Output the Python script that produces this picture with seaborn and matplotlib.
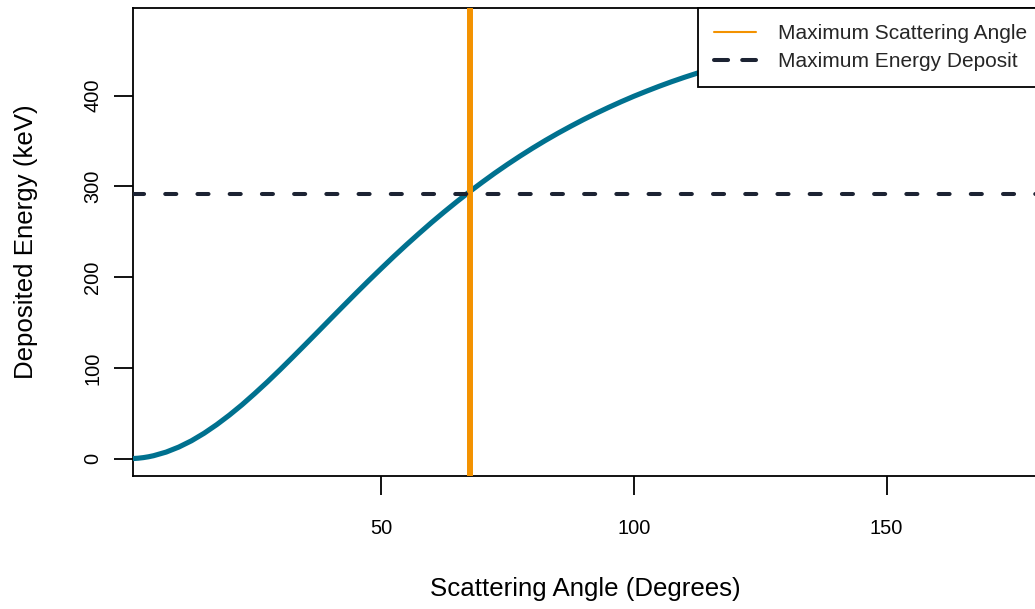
import matplotlib
matplotlib.use("Agg")
import matplotlib.pyplot as plt
from matplotlib.lines import Line2D
import seaborn as sns
import pandas as pd

# Energy deposited in the detector versus Compton scattering angle
angles = [0, 1, 2, 3, 4, 5, 7.5, 10, 12.5, 15, 17.5, 20, 22.5, 25, 27.5, 30, 32.5,
          35, 37.5, 40, 42.5, 45, 47.5, 50, 52.5, 55, 57.5, 60, 62.5, 65, 67.5, 70,
          72.5, 75, 77.5, 80, 82.5, 85, 87.5, 90, 92.5, 95, 97.5, 100, 102.5, 105,
          107.5, 110, 112.5, 115, 117.5, 120, 122.5, 125, 127.5, 130, 132.5, 135,
          137.5, 140, 142.5, 145, 147.5, 150, 152.5, 155, 157.5, 160, 162.5, 165,
          167.5, 170, 172.5, 175, 177.5, 180]
deposited = [0.0, 0.13, 0.52, 1.17, 2.08, 3.25, 7.26, 12.8, 19.7, 28.0, 37.5, 48.0,
             59.4, 71.7, 84.5, 97.9, 111.7, 125.7, 139.8, 154.0, 168.1, 182.1,
             195.9, 209.4, 222.7, 235.6, 248.1, 260.3, 272.0, 283.3, 294.2, 304.6,
             314.7, 324.3, 333.5, 342.3, 350.7, 358.7, 366.3, 373.6, 380.5, 387.1,
             393.4, 399.4, 405.0, 410.4, 415.5, 420.3, 424.8, 429.2, 433.2, 437.1,
             440.7, 444.1, 447.4, 450.4, 453.2, 455.9, 458.4, 460.7, 462.8, 464.8,
             466.6, 468.3, 469.8, 471.2, 472.4, 473.5, 474.5, 475.4, 476.1, 476.6,
             477.1, 477.4, 477.6, 477.7]
max_angle = 67.5
max_energy = 292

x_ticks = [50, 100, 150]
y_ticks = [0, 100, 200, 300, 400]
legend_labels = ["Maximum Scattering Angle", "Maximum Energy Deposit"]

curve_color = "#00718F"
angle_color = "#F39200"
energy_color = "#1C2333"

sns.set_theme(style="white")
plt.rcParams["font.family"] = ["Liberation Sans", "DejaVu Sans"]

df = pd.DataFrame({"angle": angles, "energy": deposited})

fig = plt.figure(figsize=(10.35, 6.09), dpi=100)
ax = fig.add_axes([0.1288, 0.2184, 0.8744, 0.7685])

sns.lineplot(data=df, x="angle", y="energy", ax=ax, color=curve_color,
             linewidth=3.7, solid_capstyle="round", solid_joinstyle="round",
             zorder=3)
ax.axvline(max_angle, color=angle_color, linewidth=4.3, zorder=4)
ax.axhline(max_energy, color=energy_color, linewidth=2.9, dashes=(2.75, 5.25),
           dash_capstyle="round", zorder=4)

ax.set_xlim(1, 180)
ax.set_ylim(-19.1, 496.7)
ax.set_xticks(x_ticks)
ax.set_yticks(y_ticks)
ax.set_xticklabels([str(v) for v in x_ticks])
ax.set_yticklabels([str(v) for v in y_ticks], rotation=90, va="center")

for side in ["left", "right", "top", "bottom"]:
    ax.spines[side].set_visible(True)
    ax.spines[side].set_color("black")
    ax.spines[side].set_linewidth(1.3)

ax.tick_params(axis="both", which="major", direction="out", length=13.5,
               width=1.3, color="black", labelsize=14.4, labelcolor="black",
               bottom=True, left=True)
ax.tick_params(axis="x", pad=17.3)
ax.tick_params(axis="y", pad=9)

ax.set_xlabel("Scattering Angle (Degrees)", fontsize=18.6, color="black")
ax.set_ylabel("Deposited Energy (keV)", fontsize=18.6, color="black")
ax.xaxis.label.set_va("center")
ax.yaxis.label.set_va("center")
ax.xaxis.set_label_coords(0.5, -0.241)
ax.yaxis.set_label_coords(-0.1185, 0.5)

handles = [
    Line2D([0], [0], color=angle_color, linewidth=1.5),
    Line2D([0], [0], color=energy_color, linewidth=2.9, dashes=(3.5, 3.5),
           dash_capstyle="round"),
]
leg = ax.legend(handles, legend_labels, loc="upper right",
                bbox_to_anchor=(1.0063, 1.0), borderaxespad=0, frameon=True,
                fancybox=False, framealpha=1, edgecolor="black",
                fontsize=15, handlelength=1.97, handletextpad=1.1,
                labelspacing=0.41, borderpad=0.79)
leg.get_frame().set_linewidth(1.3)

fig.savefig("out.png", dpi=100)
